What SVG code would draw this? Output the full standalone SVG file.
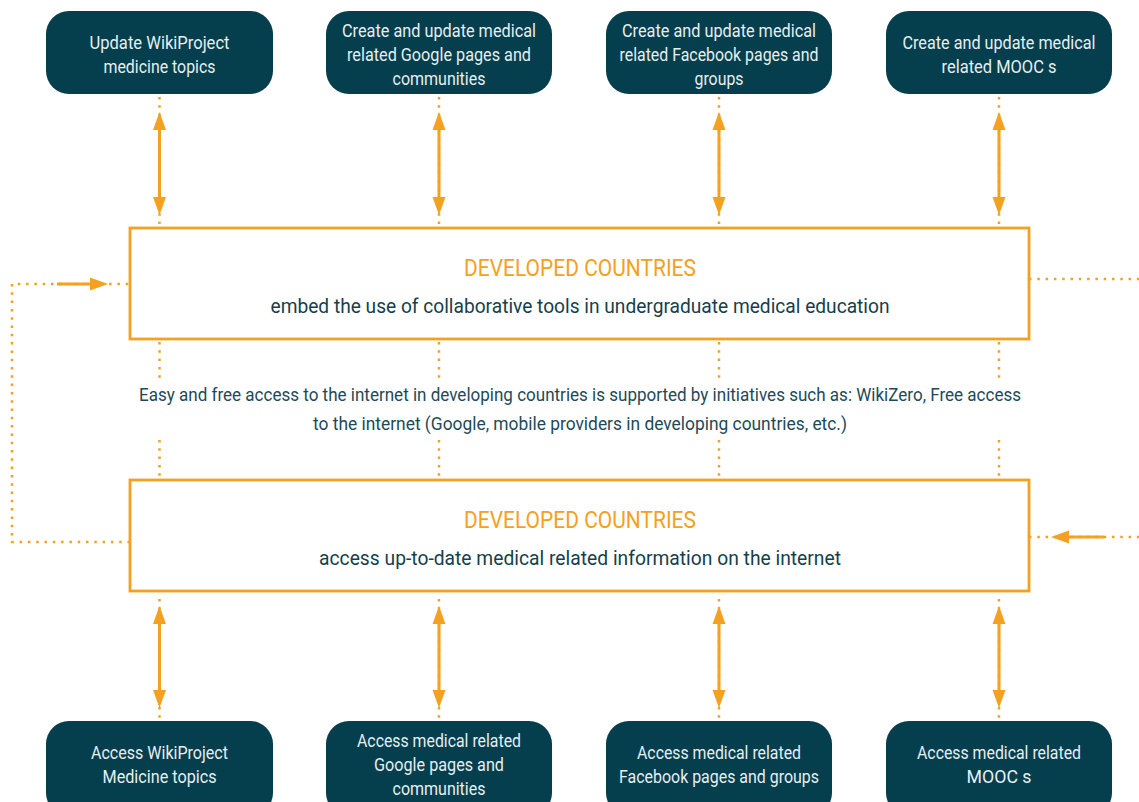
<svg xmlns="http://www.w3.org/2000/svg" width="1139" height="802" viewBox="0 0 1139 802">
<defs>
<marker id="ah" markerUnits="userSpaceOnUse" markerWidth="20" markerHeight="14" refX="0" refY="6.5" orient="auto-start-reverse" overflow="visible">
<path d="M0,0 L18,6.5 L0,13 z" fill="#f4a020"/>
</marker>
<style>
.node rect{fill:#053e4c}
.node text{fill:#e6eff1;font-family:Roboto,"Liberation Sans",sans-serif;font-size:18px;text-anchor:middle}
.box rect{fill:#fff;stroke:#f4a020;stroke-width:2.8}
.title{fill:#f4a020;font-family:Roboto,"Liberation Sans",sans-serif;font-size:23px;text-anchor:middle}
.sub{fill:#153f4b;font-family:Roboto,"Liberation Sans",sans-serif;font-size:21px;text-anchor:middle}
.mid{fill:#1e4a57;font-family:Roboto,"Liberation Sans",sans-serif;font-size:18px;text-anchor:middle}
.dot{fill:none;stroke:#f4a020;stroke-width:2.5;stroke-dasharray:2.5 5.8}
.arr{fill:none;stroke:#f4a020;stroke-width:3;marker-start:url(#ah);marker-end:url(#ah)}
.arr1{fill:none;stroke:#f4a020;stroke-width:3;marker-end:url(#ah)}
</style>
</defs>
<rect width="1139" height="802" fill="#fff"/>

<g id="connectors">
<path class="dot" d="M159.5,97V228M439,97V228M719,97V228M999,97V228"/>
<path class="arr" d="M159.5,130V197"/>
<path class="arr" d="M439,130V197"/>
<path class="arr" d="M719,130V197"/>
<path class="arr" d="M999,130V197"/>
<path class="dot" d="M159.5,342V378M439,342V378M719,342V378M999,342V378"/>
<path class="dot" d="M159.5,440V480M439,440V480M719,440V480M999,440V480"/>
<path class="dot" d="M159.5,599V721M439,599V721M719,599V721M999,599V721"/>
<path class="arr" d="M159.5,624V690"/>
<path class="arr" d="M439,624V690"/>
<path class="arr" d="M719,624V690"/>
<path class="arr" d="M999,624V690"/>
<path class="dot" d="M130,542H12V284H130"/>
<path class="arr1" d="M57,284H90"/>
<path class="dot" d="M1029,279H1139"/>
<path class="dot" d="M1029,537H1139"/>
<path class="arr1" d="M1104,537H1069"/>
</g>

<g id="box1" class="box">
<rect x="130" y="228" width="899" height="111"/>
<text class="title" x="580" y="276" textLength="232" lengthAdjust="spacingAndGlyphs">DEVELOPED COUNTRIES</text>
<text class="sub" x="580" y="313" textLength="619" lengthAdjust="spacingAndGlyphs">embed the use of collaborative tools in undergraduate medical education</text>
</g>

<g id="midtext">
<text class="mid" x="580" y="401" textLength="882" lengthAdjust="spacingAndGlyphs">Easy and free access to the internet in developing countries is supported by initiatives such as: WikiZero, Free access</text>
<text class="mid" x="580" y="430" textLength="534" lengthAdjust="spacingAndGlyphs">to the internet (Google, mobile providers in developing countries, etc.)</text>
</g>

<g id="box2" class="box">
<rect x="130" y="480" width="899" height="111"/>
<text class="title" x="580" y="528" textLength="232" lengthAdjust="spacingAndGlyphs">DEVELOPED COUNTRIES</text>
<text class="sub" x="580" y="565" textLength="522" lengthAdjust="spacingAndGlyphs">access up-to-date medical related information on the internet</text>
</g>

<g id="top1" class="node">
<rect x="46" y="11" width="227" height="83" rx="23"/>
<text x="159.5" y="49" textLength="140" lengthAdjust="spacingAndGlyphs">Update WikiProject</text>
<text x="159.5" y="73" textLength="112" lengthAdjust="spacingAndGlyphs">medicine topics</text>
</g>
<g id="top2" class="node">
<rect x="326" y="11" width="226" height="83" rx="23"/>
<text x="439" y="37" textLength="194" lengthAdjust="spacingAndGlyphs">Create and update medical</text>
<text x="439" y="61" textLength="184" lengthAdjust="spacingAndGlyphs">related Google pages and</text>
<text x="439" y="85" textLength="93" lengthAdjust="spacingAndGlyphs">communities</text>
</g>
<g id="top3" class="node">
<rect x="606" y="11" width="226" height="83" rx="23"/>
<text x="719" y="37" textLength="194" lengthAdjust="spacingAndGlyphs">Create and update medical</text>
<text x="719" y="61" textLength="199" lengthAdjust="spacingAndGlyphs">related Facebook pages and</text>
<text x="719" y="85" textLength="49" lengthAdjust="spacingAndGlyphs">groups</text>
</g>
<g id="top4" class="node">
<rect x="886" y="11" width="226" height="83" rx="23"/>
<text x="999" y="49" textLength="193" lengthAdjust="spacingAndGlyphs">Create and update medical</text>
<text x="999" y="73" textLength="115" lengthAdjust="spacingAndGlyphs">related MOOC s</text>
</g>

<g id="bot1" class="node">
<rect x="46" y="721" width="227" height="95" rx="23"/>
<text x="159.5" y="759" textLength="137" lengthAdjust="spacingAndGlyphs">Access WikiProject</text>
<text x="159.5" y="783" textLength="114" lengthAdjust="spacingAndGlyphs">Medicine topics</text>
</g>
<g id="bot2" class="node">
<rect x="326" y="721" width="226" height="95" rx="23"/>
<text x="439" y="747" textLength="164" lengthAdjust="spacingAndGlyphs">Access medical related</text>
<text x="439" y="771" textLength="130" lengthAdjust="spacingAndGlyphs">Google pages and</text>
<text x="439" y="795" textLength="93" lengthAdjust="spacingAndGlyphs">communities</text>
</g>
<g id="bot3" class="node">
<rect x="606" y="721" width="226" height="95" rx="23"/>
<text x="719" y="759" textLength="164" lengthAdjust="spacingAndGlyphs">Access medical related</text>
<text x="719" y="783" textLength="200" lengthAdjust="spacingAndGlyphs">Facebook pages and groups</text>
</g>
<g id="bot4" class="node">
<rect x="886" y="721" width="226" height="95" rx="23"/>
<text x="999" y="759" textLength="164" lengthAdjust="spacingAndGlyphs">Access medical related</text>
<text x="999" y="783" textLength="65" lengthAdjust="spacingAndGlyphs">MOOC s</text>
</g>
</svg>
